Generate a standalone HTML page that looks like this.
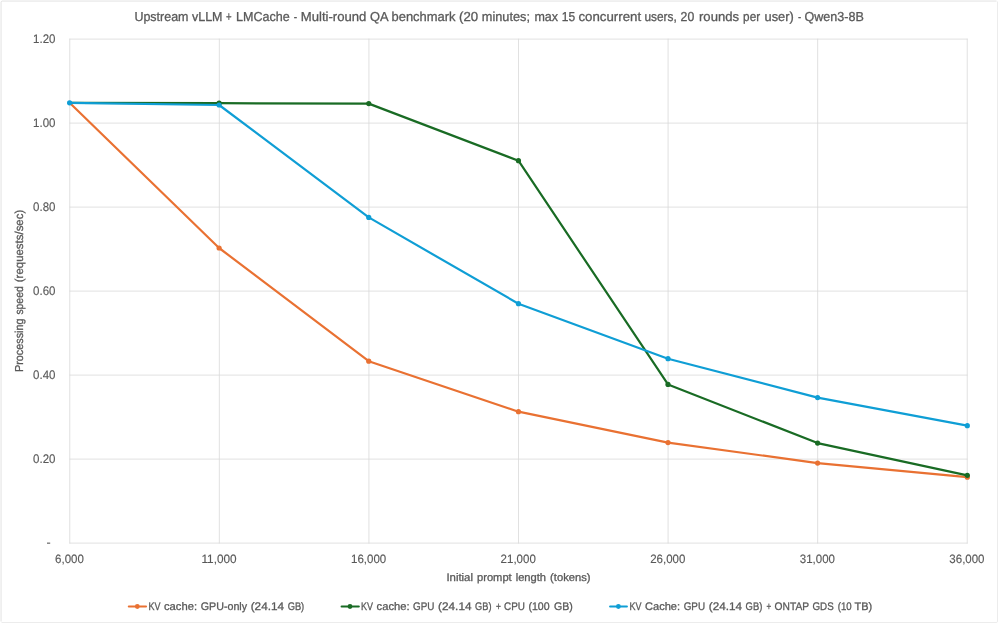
<!DOCTYPE html>
<html><head><meta charset="utf-8"><title>chart</title>
<style>
html,body{margin:0;padding:0;background:#fff;}
body{width:999px;height:624px;overflow:hidden;font-family:"Liberation Sans",sans-serif;}
svg{display:block;}
text{font-family:"Liberation Sans",sans-serif;fill:#595959;stroke:#595959;stroke-width:0.3px;text-rendering:geometricPrecision;}
text.t{stroke-width:0.15px;}
</style></head><body>
<svg width="999" height="624" viewBox="0 0 999 624">
<rect x="0" y="0" width="999" height="624" fill="#ffffff"/>
<path d="M1.05 621.5 L1.05 2.3 Q1.05 1.05 2.3 1.05 L996.5 1.05" fill="none" stroke="#d9d9d9" stroke-width="0.8"/>
<path d="M997.5 1.5 L997.5 621.3 Q997.5 622.5 996.3 622.5 L1.5 622.5" fill="none" stroke="#d9d9d9" stroke-width="0.5"/>
<g stroke="#d9d9d9" stroke-width="0.8" fill="none">
<line x1="69.36" y1="39.10" x2="967.64" y2="39.10"/>
<line x1="69.36" y1="123.10" x2="967.64" y2="123.10"/>
<line x1="69.36" y1="207.10" x2="967.64" y2="207.10"/>
<line x1="69.36" y1="291.10" x2="967.64" y2="291.10"/>
<line x1="69.36" y1="375.10" x2="967.64" y2="375.10"/>
<line x1="69.36" y1="459.10" x2="967.64" y2="459.10"/>
<line x1="69.36" y1="543.10" x2="967.64" y2="543.10"/>
<line x1="69.76" y1="38.70" x2="69.76" y2="543.50"/>
<line x1="219.34" y1="38.70" x2="219.34" y2="543.50"/>
<line x1="368.92" y1="38.70" x2="368.92" y2="543.50"/>
<line x1="518.50" y1="38.70" x2="518.50" y2="543.50"/>
<line x1="668.08" y1="38.70" x2="668.08" y2="543.50"/>
<line x1="817.66" y1="38.70" x2="817.66" y2="543.50"/>
<line x1="967.24" y1="38.70" x2="967.24" y2="543.50"/>
</g>
<polyline points="69.60,102.80 219.10,248.00 368.75,361.20 518.45,411.70 668.00,442.60 817.60,463.10 967.30,477.20" fill="none" stroke="#E97132" stroke-width="2.2" stroke-linejoin="round" stroke-linecap="round"/>
<circle cx="219.10" cy="248.00" r="2.6" fill="#E97132"/>
<circle cx="368.75" cy="361.20" r="2.6" fill="#E97132"/>
<circle cx="518.45" cy="411.70" r="2.6" fill="#E97132"/>
<circle cx="668.00" cy="442.60" r="2.6" fill="#E97132"/>
<circle cx="817.60" cy="463.10" r="2.6" fill="#E97132"/>
<circle cx="967.30" cy="477.20" r="2.6" fill="#E97132"/>
<polyline points="69.60,102.80 219.10,103.20 368.75,103.60 518.45,160.70 668.00,384.40 817.60,443.10 967.30,475.30" fill="none" stroke="#196B24" stroke-width="2.2" stroke-linejoin="round" stroke-linecap="round"/>
<circle cx="219.10" cy="103.20" r="2.6" fill="#196B24"/>
<circle cx="368.75" cy="103.60" r="2.6" fill="#196B24"/>
<circle cx="518.45" cy="160.70" r="2.6" fill="#196B24"/>
<circle cx="668.00" cy="384.40" r="2.6" fill="#196B24"/>
<circle cx="817.60" cy="443.10" r="2.6" fill="#196B24"/>
<circle cx="967.30" cy="475.30" r="2.6" fill="#196B24"/>
<polyline points="69.60,102.80 219.10,105.00 368.75,217.40 518.45,303.70 668.00,358.70 817.60,397.60 967.30,425.70" fill="none" stroke="#0F9ED5" stroke-width="2.2" stroke-linejoin="round" stroke-linecap="round"/>
<circle cx="69.60" cy="102.80" r="2.6" fill="#0F9ED5"/>
<circle cx="219.10" cy="105.00" r="2.6" fill="#0F9ED5"/>
<circle cx="368.75" cy="217.40" r="2.6" fill="#0F9ED5"/>
<circle cx="518.45" cy="303.70" r="2.6" fill="#0F9ED5"/>
<circle cx="668.00" cy="358.70" r="2.6" fill="#0F9ED5"/>
<circle cx="817.60" cy="397.60" r="2.6" fill="#0F9ED5"/>
<circle cx="967.30" cy="425.70" r="2.6" fill="#0F9ED5"/>
<g style="opacity:0.999">
<text x="134.40" y="21.10" font-size="13" textLength="88.10" lengthAdjust="spacingAndGlyphs">Upstream vLLM</text>
<text x="226.10" y="21.10" font-size="13" textLength="5.60" lengthAdjust="spacingAndGlyphs">+</text>
<text x="236.10" y="21.10" font-size="13" textLength="53.70" lengthAdjust="spacingAndGlyphs">LMCache</text>
<text x="293.80" y="21.10" font-size="13" textLength="3.40" lengthAdjust="spacingAndGlyphs">-</text>
<text x="300.80" y="21.10" font-size="13" textLength="65.60" lengthAdjust="spacingAndGlyphs">Multi-round</text>
<text x="370.10" y="21.10" font-size="13" textLength="18.60" lengthAdjust="spacingAndGlyphs">QA</text>
<text x="391.50" y="21.10" font-size="13" textLength="63.97" lengthAdjust="spacingAndGlyphs">benchmark</text>
<text x="459.10" y="21.10" font-size="13" textLength="19.10" lengthAdjust="spacingAndGlyphs">(20</text>
<text x="481.80" y="21.10" font-size="13" textLength="48.20" lengthAdjust="spacingAndGlyphs">minutes;</text>
<text x="534.40" y="21.10" font-size="13" textLength="23.60" lengthAdjust="spacingAndGlyphs">max</text>
<text x="561.70" y="21.10" font-size="13" textLength="13.40" lengthAdjust="spacingAndGlyphs">15</text>
<text x="578.50" y="21.10" font-size="13" textLength="62.60" lengthAdjust="spacingAndGlyphs">concurrent</text>
<text x="644.50" y="21.10" font-size="13" textLength="32.30" lengthAdjust="spacingAndGlyphs">users,</text>
<text x="680.60" y="21.10" font-size="13" textLength="13.60" lengthAdjust="spacingAndGlyphs">20</text>
<text x="699.00" y="21.10" font-size="13" textLength="40.00" lengthAdjust="spacingAndGlyphs">rounds</text>
<text x="743.10" y="21.10" font-size="13" textLength="17.00" lengthAdjust="spacingAndGlyphs">per</text>
<text x="764.50" y="21.10" font-size="13" textLength="29.20" lengthAdjust="spacingAndGlyphs">user)</text>
<text x="798.10" y="21.10" font-size="13" textLength="3.20" lengthAdjust="spacingAndGlyphs">-</text>
<text x="804.50" y="21.10" font-size="13" textLength="59.30" lengthAdjust="spacingAndGlyphs">Qwen3-8B</text>
<text class="t" x="55.5" y="42.90" font-size="12.4" text-anchor="end" textLength="22.4" lengthAdjust="spacingAndGlyphs">1.20</text>
<text class="t" x="55.5" y="126.90" font-size="12.4" text-anchor="end" textLength="22.4" lengthAdjust="spacingAndGlyphs">1.00</text>
<text class="t" x="55.5" y="210.90" font-size="12.4" text-anchor="end" textLength="22.4" lengthAdjust="spacingAndGlyphs">0.80</text>
<text class="t" x="55.5" y="294.90" font-size="12.4" text-anchor="end" textLength="22.4" lengthAdjust="spacingAndGlyphs">0.60</text>
<text class="t" x="55.5" y="378.90" font-size="12.4" text-anchor="end" textLength="22.4" lengthAdjust="spacingAndGlyphs">0.40</text>
<text class="t" x="55.5" y="462.90" font-size="12.4" text-anchor="end" textLength="22.4" lengthAdjust="spacingAndGlyphs">0.20</text>
<rect x="47.0" y="542.6" width="3.2" height="1.1" fill="#595959"/>
<text class="t" x="69.46" y="562.6" font-size="12.1" text-anchor="middle" textLength="28.8" lengthAdjust="spacingAndGlyphs">6,000</text>
<text class="t" x="219.04" y="562.6" font-size="12.1" text-anchor="middle" textLength="35.2" lengthAdjust="spacingAndGlyphs">11,000</text>
<text class="t" x="368.62" y="562.6" font-size="12.1" text-anchor="middle" textLength="35.2" lengthAdjust="spacingAndGlyphs">16,000</text>
<text class="t" x="518.20" y="562.6" font-size="12.1" text-anchor="middle" textLength="35.2" lengthAdjust="spacingAndGlyphs">21,000</text>
<text class="t" x="667.78" y="562.6" font-size="12.1" text-anchor="middle" textLength="35.2" lengthAdjust="spacingAndGlyphs">26,000</text>
<text class="t" x="817.36" y="562.6" font-size="12.1" text-anchor="middle" textLength="35.2" lengthAdjust="spacingAndGlyphs">31,000</text>
<text class="t" x="966.94" y="562.6" font-size="12.1" text-anchor="middle" textLength="35.2" lengthAdjust="spacingAndGlyphs">36,000</text>
<text x="446.40" y="580.80" font-size="11" textLength="26.61" lengthAdjust="spacingAndGlyphs">Initial</text>
<text x="477.00" y="580.80" font-size="11" textLength="34.70" lengthAdjust="spacingAndGlyphs">prompt</text>
<text x="515.70" y="580.80" font-size="11" textLength="30.40" lengthAdjust="spacingAndGlyphs">length</text>
<text x="550.10" y="580.80" font-size="11" textLength="40.40" lengthAdjust="spacingAndGlyphs">(tokens)</text>
<g transform="translate(23.45,0) rotate(-90)">
<text x="-372.00" y="0.00" font-size="11.5" textLength="53.50" lengthAdjust="spacingAndGlyphs">Processing</text>
<text x="-314.60" y="0.00" font-size="11.5" textLength="28.30" lengthAdjust="spacingAndGlyphs">speed</text>
<text x="-282.20" y="0.00" font-size="11.5" textLength="72.41" lengthAdjust="spacingAndGlyphs">(requests/sec)</text>
</g>
<line x1="128.80" y1="606.5" x2="146.00" y2="606.5" stroke="#E97132" stroke-width="2.1" stroke-linecap="round"/>
<circle cx="137.30" cy="606.5" r="2.4" fill="#E97132"/>
<text x="148.40" y="609.90" font-size="11" textLength="12.00" lengthAdjust="spacingAndGlyphs">KV</text>
<text x="164.00" y="609.90" font-size="11" textLength="33.10" lengthAdjust="spacingAndGlyphs">cache:</text>
<text x="200.70" y="609.90" font-size="11" textLength="46.39" lengthAdjust="spacingAndGlyphs">GPU-only</text>
<text x="250.70" y="609.90" font-size="11" textLength="33.41" lengthAdjust="spacingAndGlyphs">(24.14</text>
<text x="287.70" y="609.90" font-size="11" textLength="16.50" lengthAdjust="spacingAndGlyphs">GB)</text>
<line x1="341.60" y1="606.5" x2="358.80" y2="606.5" stroke="#196B24" stroke-width="2.1" stroke-linecap="round"/>
<circle cx="350.00" cy="606.5" r="2.4" fill="#196B24"/>
<text x="361.00" y="609.90" font-size="11" textLength="12.00" lengthAdjust="spacingAndGlyphs">KV</text>
<text x="376.60" y="609.90" font-size="11" textLength="33.10" lengthAdjust="spacingAndGlyphs">cache:</text>
<text x="413.10" y="609.90" font-size="11" textLength="21.40" lengthAdjust="spacingAndGlyphs">GPU</text>
<text x="438.10" y="609.90" font-size="11" textLength="33.41" lengthAdjust="spacingAndGlyphs">(24.14</text>
<text x="475.10" y="609.90" font-size="11" textLength="16.40" lengthAdjust="spacingAndGlyphs">GB)</text>
<text x="495.90" y="609.90" font-size="11" textLength="4.90" lengthAdjust="spacingAndGlyphs">+</text>
<text x="504.00" y="609.90" font-size="11" textLength="20.90" lengthAdjust="spacingAndGlyphs">CPU</text>
<text x="528.50" y="609.90" font-size="11" textLength="21.11" lengthAdjust="spacingAndGlyphs">(100</text>
<text x="554.10" y="609.90" font-size="11" textLength="18.80" lengthAdjust="spacingAndGlyphs">GB)</text>
<line x1="610.10" y1="606.5" x2="626.90" y2="606.5" stroke="#0F9ED5" stroke-width="2.1" stroke-linecap="round"/>
<circle cx="618.40" cy="606.5" r="2.4" fill="#0F9ED5"/>
<text x="629.40" y="609.90" font-size="11" textLength="12.00" lengthAdjust="spacingAndGlyphs">KV</text>
<text x="645.00" y="609.90" font-size="11" textLength="35.11" lengthAdjust="spacingAndGlyphs">Cache:</text>
<text x="683.70" y="609.90" font-size="11" textLength="21.40" lengthAdjust="spacingAndGlyphs">GPU</text>
<text x="708.80" y="609.90" font-size="11" textLength="33.21" lengthAdjust="spacingAndGlyphs">(24.14</text>
<text x="745.60" y="609.90" font-size="11" textLength="16.70" lengthAdjust="spacingAndGlyphs">GB)</text>
<text x="766.40" y="609.90" font-size="11" textLength="4.70" lengthAdjust="spacingAndGlyphs">+</text>
<text x="774.60" y="609.90" font-size="11" textLength="34.50" lengthAdjust="spacingAndGlyphs">ONTAP</text>
<text x="812.50" y="609.90" font-size="11" textLength="21.20" lengthAdjust="spacingAndGlyphs">GDS</text>
<text x="837.70" y="609.90" font-size="11" textLength="13.90" lengthAdjust="spacingAndGlyphs">(10</text>
<text x="854.60" y="609.90" font-size="11" textLength="17.60" lengthAdjust="spacingAndGlyphs">TB)</text>
</g>
</svg>
</body></html>
